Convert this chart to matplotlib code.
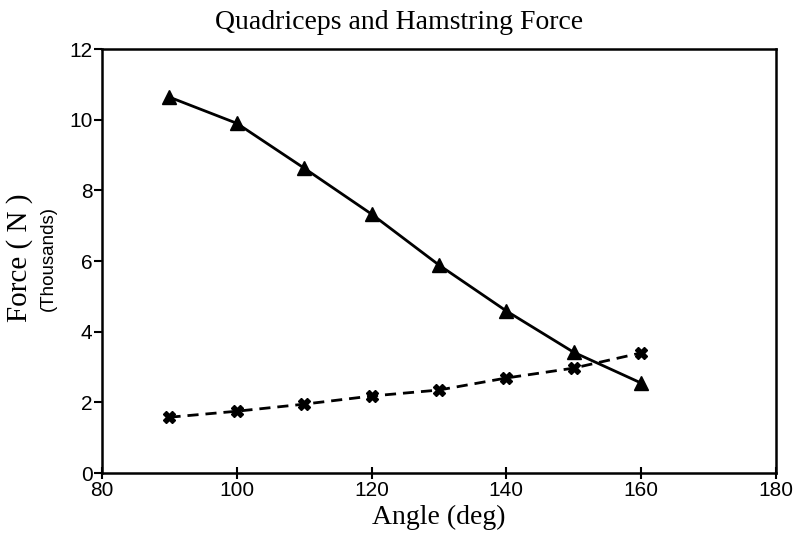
import matplotlib.pyplot as plt

angle = [90, 100, 110, 120, 130, 140, 150, 160]
quadriceps = [10.64, 9.90, 8.63, 7.33, 5.89, 4.59, 3.42, 2.55]
hamstring = [1.58, 1.75, 1.95, 2.18, 2.35, 2.69, 2.97, 3.40]

xticks = [80, 100, 120, 140, 160, 180]
yticks = [0, 2, 4, 6, 8, 10, 12]

serif = 'Liberation Serif'
sans = 'Liberation Sans'

fig = plt.figure(figsize=(7.98, 5.40), dpi=100)
ax = fig.add_axes([0.128, 0.124, 0.844, 0.785])

ax.plot(angle, quadriceps, color='black', lw=2, marker='^', ms=10)
ax.plot(angle, hamstring, color='black', lw=2, ls=(0, (4, 2.5)), marker='X', ms=8)

ax.set_xlim(80, 180)
ax.set_ylim(0, 12)
ax.set_xticks(xticks)
ax.set_yticks(yticks)
ax.set_xticklabels([str(t) for t in xticks], family=sans, fontsize=15)
ax.set_yticklabels([str(t) for t in yticks], family=sans, fontsize=15)
ax.tick_params(axis='x', direction='inout', length=8, width=1.5, pad=2)
ax.tick_params(axis='y', direction='out', length=6, width=1.5, pad=1)
for s in ax.spines.values():
    s.set_linewidth(1.8)

fig.text(0.5, 0.958, 'Quadriceps and Hamstring Force', family=serif, fontsize=20,
         ha='center', va='center')
ax.set_xlabel('Angle (deg)', family=serif, fontsize=20, labelpad=3)
fig.text(0.024, 0.522, 'Force ( N )', family=serif, fontsize=21, rotation=90,
         ha='center', va='center')
fig.text(0.061, 0.522, '(Thousands)', family=sans, fontsize=13.5, rotation=90,
         ha='center', va='center')

fig.savefig('out.png', dpi=100)
